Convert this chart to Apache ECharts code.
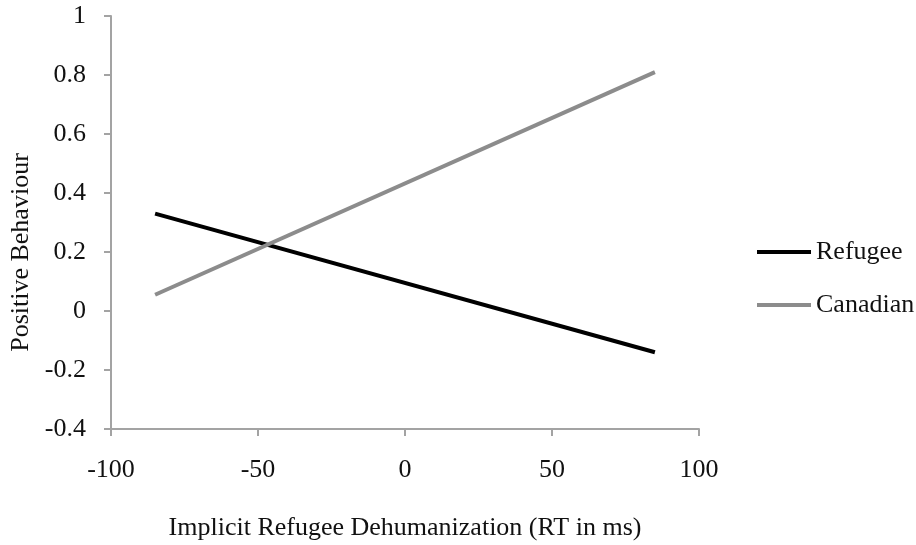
<!DOCTYPE html>
<html>
<head>
<meta charset="utf-8">
<script src="https://cdn.jsdelivr.net/npm/echarts@6/dist/echarts.min.js"></script>
<style>
  html, body { margin: 0; padding: 0; background: #fff; }
  #chart { width: 916px; height: 545px; }
</style>
</head>
<body>
<div id="chart"></div>
<script>
// Simple-slope endpoints at -85 ms and +85 ms
const xPoints = [-85, 85];
const refugeeValues = [0.33, -0.14];
const canadianValues = [0.055, 0.81];
const seriesNames = ['Refugee', 'Canadian'];
const xTicks = [-100, -50, 0, 50, 100];
const yTicks = [-0.4, -0.2, 0, 0.2, 0.4, 0.6, 0.8, 1];

const FONT = '"Liberation Serif", "Times New Roman", serif';
const FS = 26;
const TEXT = '#111111';
const AXIS = '#a3a3a3';

const toPairs = (xs, ys) => xs.map((x, i) => [x, ys[i]]);

const chart = echarts.init(document.getElementById('chart'));
chart.setOption({
  animation: false,
  backgroundColor: '#fff',
  textStyle: { fontFamily: FONT, color: TEXT },
  grid: { left: 111, right: 217, top: 16, bottom: 116, outerBoundsMode: 'none' },
  legend: {
    orient: 'vertical',
    left: 757,
    top: 239,
    padding: 0,
    itemWidth: 54,
    itemHeight: 4,
    itemGap: 27,
    icon: 'rect',
    data: seriesNames,
    textStyle: { fontFamily: FONT, fontSize: FS, color: TEXT }
  },
  xAxis: {
    type: 'value',
    min: xTicks[0],
    max: xTicks[xTicks.length - 1],
    interval: xTicks[1] - xTicks[0],
    name: 'Implicit Refugee Dehumanization (RT in ms)',
    nameLocation: 'middle',
    nameGap: 86,
    nameTextStyle: { fontFamily: FONT, fontSize: FS, color: TEXT },
    axisLine: { onZero: false, lineStyle: { color: AXIS, width: 2 } },
    axisTick: { show: true, inside: false, length: 7, lineStyle: { color: AXIS, width: 2 } },
    axisLabel: { fontFamily: FONT, fontSize: FS, color: TEXT, margin: 28 },
    splitLine: { show: false }
  },
  yAxis: {
    type: 'value',
    min: yTicks[0],
    max: yTicks[yTicks.length - 1],
    interval: 0.2,
    name: 'Positive Behaviour',
    nameLocation: 'middle',
    nameGap: 76,
    nameRotate: 90,
    nameTextStyle: { fontFamily: FONT, fontSize: FS, color: TEXT, padding: [0, 60, 0, 0] },
    axisLine: { show: true, onZero: false, lineStyle: { color: AXIS, width: 2 } },
    axisTick: { show: true, inside: false, length: 7, lineStyle: { color: AXIS, width: 2 } },
    axisLabel: {
      fontFamily: FONT, fontSize: FS, color: TEXT, margin: 25,
      formatter: v => String(Number(v.toFixed(1)))
    },
    splitLine: { show: false }
  },
  series: [
    {
      name: seriesNames[0],
      type: 'line',
      data: toPairs(xPoints, refugeeValues),
      showSymbol: false,
      symbol: 'none',
      lineStyle: { color: '#000000', width: 4 },
      itemStyle: { color: '#000000' }
    },
    {
      name: seriesNames[1],
      type: 'line',
      data: toPairs(xPoints, canadianValues),
      showSymbol: false,
      symbol: 'none',
      lineStyle: { color: '#8c8c8c', width: 4 },
      itemStyle: { color: '#8c8c8c' }
    }
  ]
});
</script>
</body>
</html>
